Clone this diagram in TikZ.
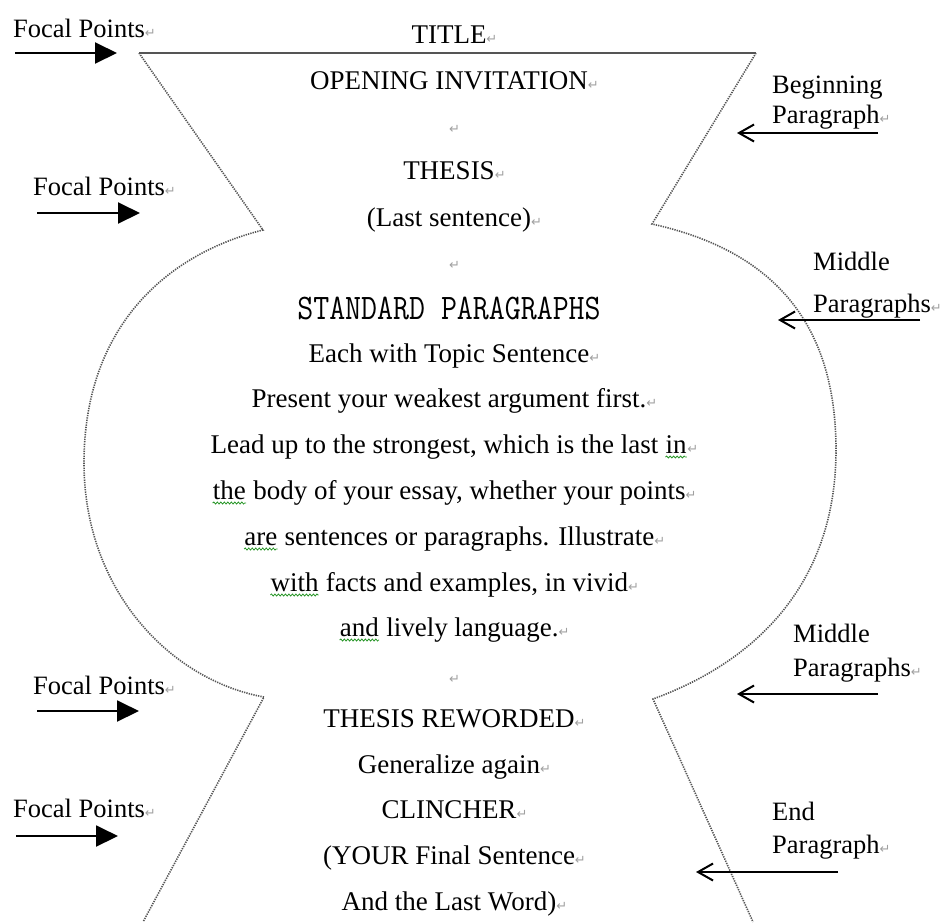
\documentclass[tikz,border=0pt]{standalone}
\usepackage{fontspec}
\setmainfont{Liberation Serif}
\newfontfamily\symfnt{DejaVu Sans}
\usetikzlibrary{arrows.meta}
\usetikzlibrary{decorations.pathmorphing}
\definecolor{markgray}{RGB}{160,160,160}
\definecolor{spellgreen}{RGB}{40,150,40}
\definecolor{edgegray}{RGB}{85,85,85}
\newcommand*{\pmark}{\rlap{\symfnt\fontsize{13}{13}\selectfont\textcolor{markgray}{↵}}}
\newcommand*{\spell}[1]{\tikz[baseline=(sw.base)]{\node [inner sep=0pt] (sw) {#1};
    \draw [spellgreen, line width=0.8pt, decorate, decoration={snake, amplitude=1pt, segment length=3.5pt}]
        ([yshift=-4pt]sw.base west) -- ([yshift=-4pt]sw.base east);}}
\newcommand*{\ctr   }{449}
\tikzset{
    body/.style  = {inner sep=0pt, anchor=base, font=\fontsize{27}{27}\selectfont},
    side/.style  = {inner sep=0pt, anchor=base west, font=\fontsize{26.5}{26.5}\selectfont},
    vase/.style  = {draw=edgegray, line width=1.6pt, dash pattern=on 1.3pt off 1.1pt},
    focal/.style = {line width=2pt, -{Triangle[length=22pt,width=21pt]}},
    part/.style  = {line width=2pt, -{Straight Barb[length=15pt,width=17pt,line width=2pt]}}
}

\begin{document}
\begin{tikzpicture}[x=1pt,y=-1pt]
    \useasboundingbox (0,0) rectangle (944,922);
    % outline of the essay
    \draw [draw=edgegray, line width=2.4pt] (139,53) -- (756,53);
    \draw [vase] (139,53) -- (263,230)
        .. controls (163,255) and (84,330) .. (84,463)
        .. controls (84,590) and (170,680) .. (264,697)
        -- (143,922);
    \draw [vase] (756,53) -- (652,224)
        .. controls (770,250) and (836,320) .. (836,450)
        .. controls (836,580) and (760,660) .. (653,699)
        -- (753,922);

    % middle text
    \node [body] (title)   at (\ctr, 43) {TITLE\pmark};
    \node [body] (open)    at (\ctr, 89) {OPENING INVITATION\pmark};
    \node [body] (gapa)    at (\ctr,133) {\pmark};
    \node [body] (thesis)  at (\ctr,179) {THESIS\pmark};
    \node [body] (last)    at (\ctr,226) {(Last sentence)\pmark};
    \node [body] (gapb)    at (\ctr,269) {\pmark};
    \node [body, font=\ttfamily\fontsize{31}{31}\selectfont] (std) at (\ctr,319) {\scalebox{1}[1.16]{STANDARD PARAGRAPHS}};
    \node [body] (topic)   at (\ctr,362) {Each with Topic Sentence\pmark};
    \node [body] (weak)    at (\ctr,407) {Present your weakest argument first.\pmark};
    \node [body] (lead)    at (\ctr,453) {Lead up to the strongest, which is the last \spell{in}\pmark};
    \node [body] (essay)   at (\ctr,499) {\spell{the} body of your essay, whether your points\pmark};
    \node [body] (illus)   at (\ctr,545) {\spell{are} sentences or paragraphs. Illustrate\pmark};
    \node [body] (facts)   at (\ctr,591) {\spell{with} facts and examples, in vivid\pmark};
    \node [body] (lively)  at (\ctr,636) {\spell{and} lively language.\pmark};
    \node [body] (gapc)    at (\ctr,683) {\pmark};
    \node [body] (reword)  at (\ctr,727) {THESIS REWORDED\pmark};
    \node [body] (general) at (\ctr,773) {Generalize again\pmark};
    \node [body] (clinch)  at (\ctr,818) {CLINCHER\pmark};
    \node [body] (final)   at (\ctr,864) {(YOUR Final Sentence\pmark};
    \node [body] (word)    at (\ctr,910) {And the Last Word)\pmark};

    % focal points on the left
    \node [side] (fpa) at (13, 37) {Focal Points\pmark};
    \node [side] (fpb) at (33,195) {Focal Points\pmark};
    \node [side] (fpc) at (33,694) {Focal Points\pmark};
    \node [side] (fpd) at (13,817) {Focal Points\pmark};
    \coordinate (fpa0) at ( 15, 53); \coordinate (fpa1) at (117, 53);
    \coordinate (fpb0) at ( 37,213); \coordinate (fpb1) at (140,213);
    \coordinate (fpc0) at ( 37,711); \coordinate (fpc1) at (139,711);
    \coordinate (fpd0) at ( 16,836); \coordinate (fpd1) at (118,836);
    \draw [focal] (fpa0) -- (fpa1);
    \draw [focal] (fpb0) -- (fpb1);
    \draw [focal] (fpc0) -- (fpc1);
    \draw [focal] (fpd0) -- (fpd1);

    % paragraphs on the right
    \node [side] (bega) at (772, 93) {Beginning};
    \node [side] (begb) at (772,123) {Paragraph\pmark};
    \node [side] (mida) at (813,270) {Middle};
    \node [side] (midb) at (813,312) {Paragraphs\pmark};
    \node [side] (midc) at (793,642) {Middle};
    \node [side] (midd) at (793,676) {Paragraphs\pmark};
    \node [side] (enda) at (772,820) {End};
    \node [side] (endb) at (772,853) {Paragraph\pmark};
    \coordinate (beg0) at (878,133); \coordinate (beg1) at (737,133);
    \coordinate (mid0) at (920,320); \coordinate (mid1) at (778,320);
    \coordinate (mid2) at (878,694); \coordinate (mid3) at (737,694);
    \coordinate (end0) at (838,872); \coordinate (end1) at (696,872);
    \draw [part] (beg0) -- (beg1);
    \draw [part] (mid0) -- (mid1);
    \draw [part] (mid2) -- (mid3);
    \draw [part] (end0) -- (end1);
\end{tikzpicture}
\end{document}
